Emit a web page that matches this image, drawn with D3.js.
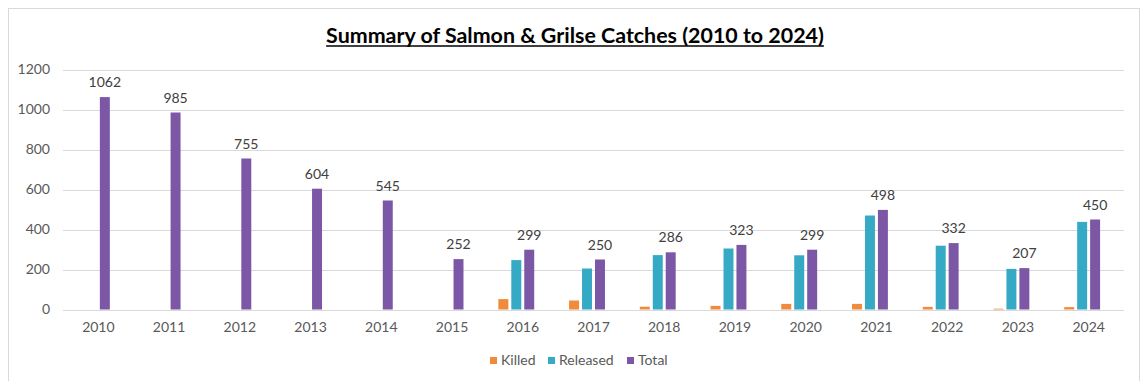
<!DOCTYPE html>
<html>
<head>
<meta charset="utf-8">
<script src="https://cdn.jsdelivr.net/npm/d3@7"></script>
<style>
  html, body { margin: 0; padding: 0; background: #ffffff; }
  svg { display: block; font-family: Lato, "Open Sans", sans-serif; }
</style>
</head>
<body>
<svg id="chart" width="1141" height="381"></svg>
<script>
// Catch records per season
const years = ["2010","2011","2012","2013","2014","2015","2016","2017","2018","2019","2020","2021","2022","2023","2024"];
const killed   = [null, null, null, null, null, null, 52, 45, 14, 18, 28, 28, 13, 4, 12];
const released = [null, null, null, null, null, null, 247, 205, 272, 305, 271, 470, 319, 203, 438];
const total    = [1062, 985, 755, 604, 545, 252, 299, 250, 286, 323, 299, 498, 332, 207, 450];
const seriesNames = ["Killed", "Released", "Total"];
const yTicks = [0, 200, 400, 600, 800, 1000, 1200];
const titleText = "Summary of Salmon & Grilse Catches (2010 to 2024)";

const colors = { Killed: "#F08A3C", Released: "#36A9C4", Total: "#7C57A6" };
const seriesValues = { Killed: killed, Released: released, Total: total };

const svg = d3.select("#chart");
const W = 1141, H = 381;
const plot = { left: 63, right: 1124, top: 69.5, bottom: 309.5 };
const labelFont = "Lato, 'Open Sans', sans-serif";

// chart frame
svg.append("rect")
  .attr("x", 8.5).attr("y", 8.5)
  .attr("width", W - 10).attr("height", H + 10)
  .attr("fill", "#ffffff")
  .attr("stroke", "#d9d9d9").attr("stroke-width", 1);

const x0 = d3.scaleBand()
  .domain(years)
  .range([plot.left, plot.right])
  .paddingInner(0.31)
  .paddingOuter(0.155);

// a fourth, empty slot keeps the groups in the same place as the source layout
const x1 = d3.scaleBand()
  .domain([...seriesNames, "_spare"])
  .range([0, x0.bandwidth()])
  .paddingInner(0.23);

const y = d3.scaleLinear().domain([0, 1200]).range([plot.bottom, plot.top]);

// gridlines
svg.append("g")
  .selectAll("line")
  .data(yTicks)
  .join("line")
  .attr("x1", plot.left).attr("x2", plot.right)
  .attr("y1", d => Math.round(y(d)) + 0.5).attr("y2", d => Math.round(y(d)) + 0.5)
  .attr("stroke", "#d9d9d9").attr("stroke-width", 1);

// y axis labels
const yAxis = d3.axisLeft(y).tickValues(yTicks).tickFormat(d3.format("d")).tickSize(0).tickPadding(0);
const gy = svg.append("g").attr("transform", `translate(50,0)`).call(yAxis);
gy.select(".domain").remove();
gy.selectAll("text")
  .attr("fill", "#595959")
  .style("font-size", "14px")
  .style("font-family", labelFont);

// x axis labels
const xAxis = d3.axisBottom(x0).tickSize(0).tickPadding(0);
const gx = svg.append("g").attr("transform", `translate(0,${plot.bottom + 13})`).call(xAxis);
gx.select(".domain").remove();
gx.selectAll("text")
  .attr("fill", "#595959")
  .attr("dy", "0.71em")
  .style("font-size", "14px")
  .style("font-family", labelFont);

// bars
const groups = svg.append("g")
  .selectAll("g")
  .data(years)
  .join("g")
  .attr("transform", d => `translate(${x0(d)},0)`);

groups.selectAll("rect")
  .data((d, i) => seriesNames
    .map(s => ({ series: s, value: seriesValues[s][i] }))
    .filter(e => e.value !== null))
  .join("rect")
  .attr("x", d => x1(d.series))
  .attr("width", x1.bandwidth())
  .attr("y", d => y(d.value))
  .attr("height", d => y(0) - y(d.value))
  .attr("fill", d => colors[d.series]);

// value labels on the totals
groups.append("text")
  .attr("x", x1("Total") + x1.bandwidth() / 2)
  .attr("y", (d, i) => y(total[i]) - 10)
  .attr("text-anchor", "middle")
  .attr("fill", "#404040")
  .style("font-size", "14px")
  .text((d, i) => total[i]);

// title, bold and underlined
const title = svg.append("text")
  .attr("x", 575).attr("y", 43)
  .attr("text-anchor", "middle")
  .attr("fill", "#000000")
  .style("font-size", "20px")
  .style("font-weight", "bold")
  .text(titleText);
const tw = title.node().getComputedTextLength();
const fs = 20 * 498 / tw;
title.style("font-size", fs + "px");
const tw2 = title.node().getComputedTextLength();
svg.append("line")
  .attr("x1", 575 - tw2 / 2).attr("x2", 575 + tw2 / 2)
  .attr("y1", 46).attr("y2", 46)
  .attr("stroke", "#000000").attr("stroke-width", 1.5);

// legend
const legendX = [490, 548, 627];
const legend = svg.append("g")
  .selectAll("g")
  .data(seriesNames)
  .join("g")
  .attr("transform", (d, i) => `translate(${legendX[i]},357)`);
legend.append("rect")
  .attr("width", 7).attr("height", 7)
  .attr("fill", d => colors[d]);
legend.append("text")
  .attr("x", 11).attr("y", 3.5)
  .attr("dy", "0.35em")
  .attr("fill", "#595959")
  .style("font-size", "14px")
  .text(d => d);
</script>
</body>
</html>
